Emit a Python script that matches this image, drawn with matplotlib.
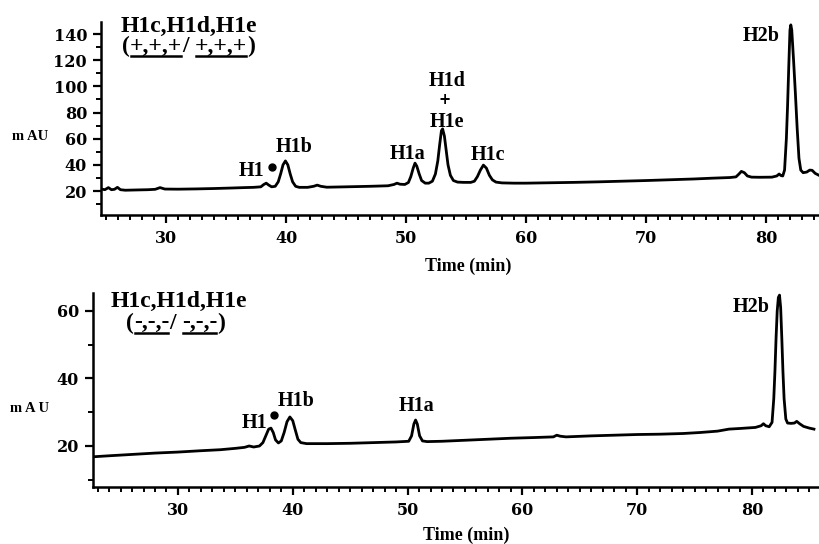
import matplotlib
matplotlib.use("Agg")
import matplotlib.pyplot as plt
from matplotlib.ticker import MultipleLocator
from matplotlib.lines import Line2D
from matplotlib.transforms import IdentityTransform

# ---------------- data ----------------
top_time = [24.6, 24.9, 25.2, 25.45, 25.7, 25.95, 26.2, 26.6, 27.5, 28.5, 29.1, 29.5, 29.9,
            31, 32.5, 34, 35.5, 36.5, 37.3, 37.9, 38.15, 38.35, 38.55, 38.8, 39.1, 39.35,
            39.55, 39.75, 39.95, 40.15, 40.35, 40.55, 40.8, 41.1, 41.8, 42.3, 42.6, 42.9,
            43.4, 45, 47, 48.5, 49.0, 49.25, 49.5, 49.9, 50.2, 50.4, 50.6, 50.75, 50.9,
            51.1, 51.3, 51.6, 51.9, 52.2, 52.45, 52.65, 52.8, 52.95, 53.05, 53.2, 53.35,
            53.5, 53.7, 53.95, 54.3, 54.8, 55.4, 55.7, 55.95, 56.2, 56.45, 56.7, 56.95,
            57.2, 57.5, 58, 59, 60, 62, 64, 66, 68, 70, 72, 74, 75.5, 77, 77.5, 77.75,
            77.95, 78.2, 78.45, 78.8, 79.5, 80.5, 80.9, 81.1, 81.25, 81.4, 81.55, 81.7,
            81.8, 81.9, 82.0, 82.07, 82.15, 82.3, 82.45, 82.6, 82.75, 82.9, 83.1, 83.4,
            83.65, 83.85, 84.1, 84.42]
top_mau = [21.5, 21.0, 22.6, 21.0, 21.3, 22.8, 21.0, 20.6, 20.8, 21.0, 21.3, 22.6, 21.5,
           21.4, 21.6, 21.9, 22.3, 22.6, 22.8, 23.2, 25.0, 26.0, 24.6, 23.2, 23.6, 27,
           33, 40, 43, 40, 33, 27, 23.6, 22.8, 22.8, 23.6, 24.5, 23.6,
           22.9, 23.2, 23.6, 24.0, 25.0, 26.0, 25.2, 25.0, 26.5, 31, 37.5, 41.3, 39,
           33, 28, 26.0, 26.0, 27.5, 33, 43, 55, 66, 67.5, 62, 51,
           40, 32, 28, 26.8, 26.6, 26.6, 27.5, 31, 36, 39.8, 37.5, 32,
           28.5, 26.8, 26.2, 26.0, 26.0, 26.3, 26.6, 27.0, 27.5, 28.0, 28.6, 29.2, 29.8, 30.3, 30.8, 33,
           35, 34, 31.5, 30.6, 30.5, 30.6, 31.5, 33.0, 31.8, 31.5, 36, 60,
           85, 115, 143, 147, 143, 120, 95, 68, 45, 36, 34, 34.5,
           36.0, 35.8, 33.5, 32.0]

bottom_time = [22.6, 24, 26, 28, 30, 32, 33.7, 35, 35.8, 36.2, 36.6, 37.1, 37.4, 37.65,
               37.9, 38.1, 38.3, 38.5, 38.75, 39.0, 39.25, 39.5, 39.75, 40.0, 40.2, 40.45,
               40.7, 41.2, 43, 45, 47, 49, 50.1, 50.35, 50.55, 50.7, 50.85, 51.05, 51.3,
               51.7, 53, 55, 57, 59, 61, 62.7, 63.0, 63.3, 63.8, 66, 68, 70, 72, 74, 75.5,
               77, 78, 79, 80.3, 80.8, 81.0, 81.2, 81.5, 81.75, 81.9, 82.0, 82.1, 82.2,
               82.3, 82.4, 82.5, 82.6, 82.7, 82.8, 82.95, 83.1, 83.4, 83.7, 83.9, 84.15,
               84.5, 85, 85.4]
bottom_mau = [16.8, 17.1, 17.5, 17.9, 18.2, 18.6, 18.9, 19.3, 19.6, 20.0, 19.7, 20.0, 21, 23,
              25, 25.3, 24, 21.8, 20.9, 21.5, 24, 27.2, 28.6, 27.5, 25, 22,
              21, 20.7, 20.7, 20.8, 21.0, 21.2, 21.4, 23, 26.5, 27.7, 26.5, 23, 21.5,
              21.3, 21.4, 21.7, 22.0, 22.3, 22.5, 22.7, 23.2, 22.9, 22.7, 23.0, 23.2, 23.4, 23.5, 23.7, 24.0,
              24.4, 25.0, 25.2, 25.5, 26.0, 26.6, 26.0, 25.7, 27, 34, 42, 52, 60,
              64, 64.7, 61, 52, 42, 34, 28, 26.8, 26.7, 26.8, 27.3, 26.6,
              25.8, 25.3, 25.0]

x_ticks = [30, 40, 50, 60, 70, 80]
top_y_ticks = [20, 40, 60, 80, 100, 120, 140]
bottom_y_ticks = [20, 40, 60]

# peak labels: (text, time, mAU)
top_labels = [("H1", 37.1, 31.5), ("H1b", 40.67, 49.8), ("H1a", 50.17, 44.5),
              ("H1d", 53.4, 100.5), ("H1e", 53.4, 68.9), ("H1c", 56.8, 43.7),
              ("H2b", 79.6, 134.7)]
bottom_labels = [("H1", 36.7, 25.2), ("H1b", 40.28, 31.85), ("H1a", 50.82, 30.4),
                 ("H2b", 79.9, 59.7)]

W, H = 820, 544
SERIF = "Liberation Serif"


def fx(x):
    return x / W


def fy(y):
    return 1 - y / H


fig = plt.figure(figsize=(8.2, 5.44), dpi=100)

ax1 = fig.add_axes([fx(101), fy(215), (819 - 101) / W, (215 - 22) / H])
ax2 = fig.add_axes([fx(93), fy(487), (819 - 93) / W, (487 - 293) / H])


def style(ax, xlim, ylim, yticks):
    ax.set_xlim(*xlim)
    ax.set_ylim(*ylim)
    for s in ["top", "right"]:
        ax.spines[s].set_visible(False)
    for s in ["left", "bottom"]:
        ax.spines[s].set_linewidth(1.8)
    ax.set_xticks(x_ticks)
    ax.set_yticks(yticks)
    ax.xaxis.set_minor_locator(MultipleLocator(1))
    ax.yaxis.set_minor_locator(MultipleLocator(10))
    ax.tick_params(which="major", direction="out", length=6, width=1.6, pad=4)
    ax.tick_params(which="minor", direction="out", length=3.5, width=1.4)
    ax.tick_params(axis="x", which="major", pad=5)
    for lab in ax.get_xticklabels() + ax.get_yticklabels():
        lab.set_fontfamily("DejaVu Serif")
        lab.set_fontweight("bold")
        lab.set_fontsize(11.5)


style(ax1, (24.58, 84.42), (1.66, 149.2), top_y_ticks)
style(ax2, (22.6, 85.84), (7.85, 65.33), bottom_y_ticks)

ax1.plot(top_time, top_mau, color="black", lw=2.0, solid_joinstyle="round")
ax2.plot(bottom_time, bottom_mau, color="black", lw=2.0, solid_joinstyle="round")

lab_kw = dict(fontfamily=SERIF, fontweight="bold", fontsize=14.5, ha="center", va="baseline")
for txt, t, v in top_labels:
    ax1.text(t, v, txt, **lab_kw)
for txt, t, v in bottom_labels:
    ax2.text(t, v, txt, **lab_kw)
ax1.text(53.2, 90.3, "+", fontfamily="DejaVu Sans", fontweight="bold", fontsize=10.5,
         ha="center", va="center")
# bullets of H1*
ax1.plot([38.85], [38.3], marker="o", ms=5, color="black")
ax2.plot([38.36], [29.3], marker="o", ms=5, color="black")

# axis labels
xl_kw = dict(fontfamily=SERIF, fontweight="bold", fontsize=13, ha="center", va="center")
fig.text(fx(468), fy(266), "Time (min)", **xl_kw)
fig.text(fx(466), fy(535), "Time (min)", **xl_kw)
yl_kw = dict(fontfamily=SERIF, fontweight="bold", fontsize=10.5, ha="center", va="center")
fig.text(fx(30), fy(137), "m AU", **yl_kw)
fig.text(fx(30), fy(408), "m A U", **yl_kw)

# titles
tt_kw = dict(fontfamily=SERIF, fontweight="bold", fontsize=17)
fig.text(fx(189), fy(26), "H1c,H1d,H1e", ha="center", va="center", **tt_kw)
fig.text(fx(179), fy(301), "H1c,H1d,H1e", ha="center", va="center", **tt_kw)


def underlined(x_px, y_base_px, sign):
    parts = [("(", False), (sign, True), ("/ ", False), (sign, True), (")", False)]
    texts = []
    prev = fig.text(fx(x_px), fy(y_base_px), parts[0][0], ha="left", va="baseline", **tt_kw)
    texts.append((prev, parts[0][1]))
    for p, u in parts[1:]:
        t = fig.text(0, 0, p, ha="left", va="baseline", **tt_kw)
        texts.append((t, u))
    fig.canvas.draw()
    r = fig.canvas.get_renderer()
    x = prev.get_window_extent(r).x1
    yb = fy(y_base_px) * fig.bbox.height
    for t, u in texts[1:]:
        t.set_transform(IdentityTransform())
        t.set_position((x, yb))
        bb = t.get_window_extent(r)
        x = bb.x1
    fig.canvas.draw()
    for t, u in texts:
        if u:
            bb = t.get_window_extent(r)
            ly = bb.y0 + 1.5
            fig.add_artist(Line2D([bb.x0 + 1, bb.x1 - 1], [ly, ly], color="black", lw=1.8,
                                  transform=IdentityTransform()))


underlined(122, 52, "+,+,+")
underlined(126, 329, "-,-,-")

fig.savefig("out.png", dpi=100)
